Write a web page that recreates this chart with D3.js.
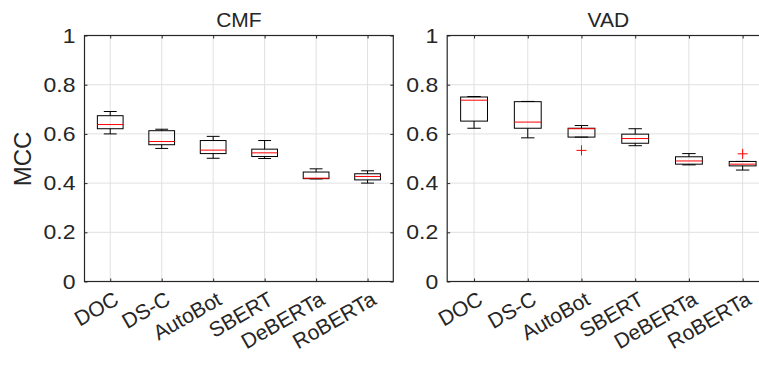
<!DOCTYPE html>
<html>
<head>
<meta charset="utf-8">
<script src="https://cdn.jsdelivr.net/npm/d3@7"></script>
<style>
body { margin: 0; background: #fff; }
text { font-family: "Liberation Sans", Arial, sans-serif; fill: #262626; }
</style>
</head>
<body>
<svg></svg>
<script>
// categories and tick labels
var categories = ["DOC", "DS-C", "AutoBot", "SBERT", "DeBERTa", "RoBERTa"];
var yTicks = [0, 0.2, 0.4, 0.6, 0.8, 1];

// CMF box stats
var cmfMin = [0.600, 0.541, 0.501, 0.500, 0.417, 0.400];
var cmfQ1  = [0.621, 0.556, 0.520, 0.508, 0.418, 0.413];
var cmfMed = [0.638, 0.569, 0.534, 0.523, 0.420, 0.427];
var cmfQ3  = [0.674, 0.613, 0.573, 0.538, 0.445, 0.438];
var cmfMax = [0.691, 0.619, 0.590, 0.573, 0.458, 0.450];
var cmfOut = [[], [], [], [], [], []];

// VAD box stats
var vadMin = [0.623, 0.584, 0.587, 0.552, 0.474, 0.453];
var vadQ1  = [0.652, 0.623, 0.587, 0.562, 0.477, 0.470];
var vadMed = [0.737, 0.648, 0.621, 0.581, 0.490, 0.477];
var vadQ3  = [0.750, 0.731, 0.623, 0.599, 0.507, 0.488];
var vadMax = [0.752, 0.732, 0.634, 0.621, 0.520, 0.488];
var vadOut = [[], [], [0.533], [], [], [0.519]];

var svgWidth = 759, svgHeight = 365;
var plotTop = 35.5, plotBottom = 281.5;

var svg = d3.select("svg")
    .attr("width", svgWidth)
    .attr("height", svgHeight);

var y = d3.scaleLinear().domain([0, 1]).range([plotBottom, plotTop]);

function cleanAxis(s) {
    s.select(".domain").remove();
    s.selectAll("line").attr("stroke", "#262626");
}

function panel(title, left, right, mins, q1, med, q3, maxs, outs) {
    var x = d3.scaleLinear().domain([0.5, 6.5]).range([left, right]);
    var step = x(2) - x(1);
    var g = svg.append("g");

    // grid
    g.selectAll(".vgrid").data(categories).enter().append("line")
        .attr("x1", function(d, i) { return x(i + 1); })
        .attr("x2", function(d, i) { return x(i + 1); })
        .attr("y1", plotTop).attr("y2", plotBottom)
        .attr("stroke", "#e0e0e0").attr("stroke-width", 1);
    g.selectAll(".hgrid").data(yTicks).enter().append("line")
        .attr("x1", left).attr("x2", right)
        .attr("y1", function(d) { return y(d); })
        .attr("y2", function(d) { return y(d); })
        .attr("stroke", "#e0e0e0").attr("stroke-width", 1);

    // axes box with inward ticks on all four sides
    g.append("rect").attr("x", left).attr("y", plotTop)
        .attr("width", right - left).attr("height", plotBottom - plotTop)
        .attr("fill", "none").attr("stroke", "#262626").attr("stroke-width", 1.2);
    g.append("g").attr("transform", "translate(" + left + ",0)")
        .call(d3.axisLeft(y).tickValues(yTicks).tickSize(-3).tickFormat(""))
        .call(cleanAxis);
    g.append("g").attr("transform", "translate(" + right + ",0)")
        .call(d3.axisRight(y).tickValues(yTicks).tickSize(-3).tickFormat(""))
        .call(cleanAxis);
    g.append("g").attr("transform", "translate(0," + plotBottom + ")")
        .call(d3.axisBottom(x).tickValues([1, 2, 3, 4, 5, 6]).tickSize(-3).tickFormat(""))
        .call(cleanAxis);
    g.append("g").attr("transform", "translate(0," + plotTop + ")")
        .call(d3.axisTop(x).tickValues([1, 2, 3, 4, 5, 6]).tickSize(-3).tickFormat(""))
        .call(cleanAxis);

    // y tick labels (reference glyphs look a bit wide)
    g.selectAll(".ylab").data(yTicks).enter().append("text")
        .attr("text-anchor", "end")
        .attr("transform", function(d) {
            return "translate(" + (left - 9) + "," + y(d) + ") scale(1.15,1)";
        })
        .attr("dy", "0.35em")
        .style("font-size", "20px")
        .text(function(d) { return d3.format("~g")(d); });

    // x tick labels, rotated
    g.selectAll(".xlab").data(categories).enter().append("text")
        .attr("text-anchor", "end")
        .attr("transform", function(d, i) {
            return "translate(" + (x(i + 1) + 10) + "," + (plotBottom + 22) + ") rotate(-30)";
        })
        .style("font-size", "21px")
        .text(function(d) { return d; });

    // title
    g.append("text").attr("x", (left + right) / 2).attr("y", 27)
        .attr("text-anchor", "middle").style("font-size", "21px")
        .text(title);

    // boxes
    var bw = step * 0.5, cw = step * 0.25;
    var boxes = g.selectAll(".box").data(categories).enter().append("g")
        .attr("fill", "none");
    boxes.append("line")
        .attr("x1", function(d, i) { return x(i + 1); })
        .attr("x2", function(d, i) { return x(i + 1); })
        .attr("y1", function(d, i) { return y(q3[i]); })
        .attr("y2", function(d, i) { return y(maxs[i]); })
        .attr("stroke", "#000");
    boxes.append("line")
        .attr("x1", function(d, i) { return x(i + 1); })
        .attr("x2", function(d, i) { return x(i + 1); })
        .attr("y1", function(d, i) { return y(q1[i]); })
        .attr("y2", function(d, i) { return y(mins[i]); })
        .attr("stroke", "#000");
    boxes.append("line")
        .attr("x1", function(d, i) { return x(i + 1) - cw / 2; })
        .attr("x2", function(d, i) { return x(i + 1) + cw / 2; })
        .attr("y1", function(d, i) { return y(maxs[i]); })
        .attr("y2", function(d, i) { return y(maxs[i]); })
        .attr("stroke", "#000");
    boxes.append("line")
        .attr("x1", function(d, i) { return x(i + 1) - cw / 2; })
        .attr("x2", function(d, i) { return x(i + 1) + cw / 2; })
        .attr("y1", function(d, i) { return y(mins[i]); })
        .attr("y2", function(d, i) { return y(mins[i]); })
        .attr("stroke", "#000");
    boxes.append("rect")
        .attr("x", function(d, i) { return x(i + 1) - bw / 2; })
        .attr("y", function(d, i) { return y(q3[i]); })
        .attr("width", bw)
        .attr("height", function(d, i) { return y(q1[i]) - y(q3[i]); })
        .attr("stroke", "#000");
    boxes.append("line")
        .attr("x1", function(d, i) { return x(i + 1) - bw / 2; })
        .attr("x2", function(d, i) { return x(i + 1) + bw / 2; })
        .attr("y1", function(d, i) { return y(med[i]); })
        .attr("y2", function(d, i) { return y(med[i]); })
        .attr("stroke", "#ff0000");

    // outliers as red plus markers
    var pts = [];
    outs.forEach(function(o, i) { o.forEach(function(v) { pts.push([i + 1, v]); }); });
    g.selectAll(".out").data(pts).enter().append("path")
        .attr("d", function(d) {
            var cx = x(d[0]), cy = y(d[1]), r = 5;
            return "M" + (cx - r) + "," + cy + "H" + (cx + r) + "M" + cx + "," + (cy - r) + "V" + (cy + r);
        })
        .attr("stroke", "#ff0000").attr("fill", "none");
}

panel("CMF", 84.5, 393.3, cmfMin, cmfQ1, cmfMed, cmfQ3, cmfMax, cmfOut);
panel("VAD", 447.2, 769.5, vadMin, vadQ1, vadMed, vadQ3, vadMax, vadOut);

// shared y label
svg.append("text")
    .attr("transform", "translate(31,159) rotate(-90)")
    .attr("text-anchor", "middle")
    .style("font-size", "24px")
    .text("MCC");
</script>
</body>
</html>
